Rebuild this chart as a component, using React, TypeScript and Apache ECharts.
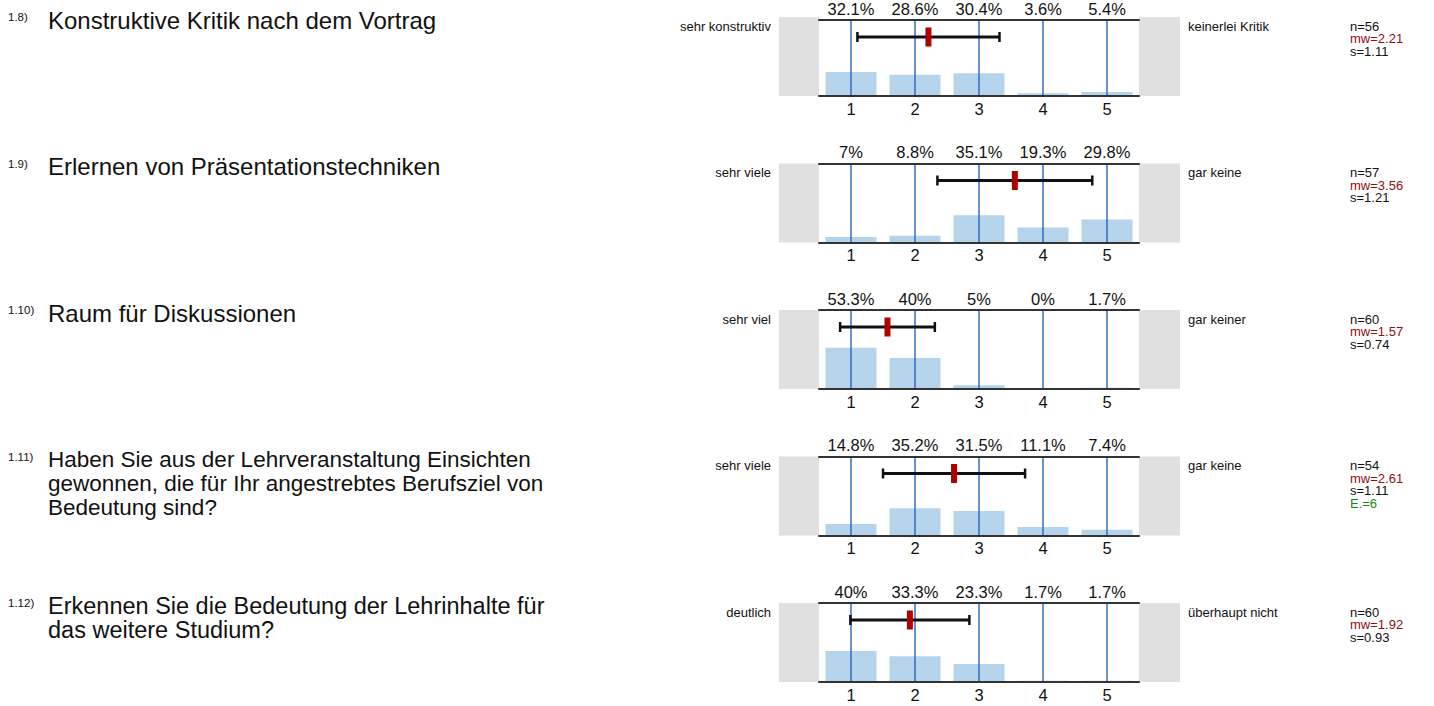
import React, { useEffect, useRef } from "react";
import * as echarts from "echarts";

const questionNumbers = ["1.8)", "1.9)", "1.10)", "1.11)", "1.12)"];
const questionTexts = [
  "Konstruktive Kritik nach dem Vortrag",
  "Erlernen von Präsentationstechniken",
  "Raum für Diskussionen",
  "Haben Sie aus der Lehrveranstaltung Einsichten\ngewonnen, die für Ihr angestrebtes Berufsziel von\nBedeutung sind?",
  "Erkennen Sie die Bedeutung der Lehrinhalte für\ndas weitere Studium?",
];
const leftLabels = ["sehr konstruktiv", "sehr viele", "sehr viel", "sehr viele", "deutlich"];
const rightLabels = ["keinerlei Kritik", "gar keine", "gar keiner", "gar keine", "überhaupt nicht"];
const categories = ["1", "2", "3", "4", "5"];
const scalePoints = [1, 2, 3, 4, 5];

const pct1 = [32.1, 28.6, 30.4, 3.6, 5.4];
const pct2 = [7, 8.8, 35.1, 19.3, 29.8];
const pct3 = [53.3, 40, 5, 0, 1.7];
const pct4 = [14.8, 35.2, 31.5, 11.1, 7.4];
const pct5 = [40, 33.3, 23.3, 1.7, 1.7];
const percentages = [pct1, pct2, pct3, pct4, pct5];

const nValues = [56, 57, 60, 54, 60];
const meanValues = [2.21, 3.56, 1.57, 2.61, 1.92];
const sdValues = [1.11, 1.21, 0.74, 1.11, 0.93];
const abstentions: (number | null)[] = [null, null, null, 6, null];

const FONT = "'Liberation Sans', Arial, Helvetica, sans-serif";
const GRID_LEFT = 819;
const GRID_WIDTH = 320;
const GRID_HEIGHT = 79;
const PANEL_STEP = 146.5;
const FIRST_TOP = 17;
const VLINE = "#2566b8";

export default function App() {
  const ref = useRef<HTMLDivElement>(null);

  useEffect(() => {
    if (!ref.current) return;
    const chart = echarts.init(ref.current, undefined, { renderer: "svg" });

    const grids: any[] = [];
    const xAxes: any[] = [];
    const yAxes: any[] = [];
    const series: any[] = [];
    const graphics: any[] = [];

    percentages.forEach((pcts, i) => {
      const top = FIRST_TOP + PANEL_STEP * i;
      grids.push({ left: GRID_LEFT, top, width: GRID_WIDTH, height: GRID_HEIGHT });
      xAxes.push({
        type: "category",
        gridIndex: i,
        data: categories,
        position: "bottom",
        axisLine: { show: true, lineStyle: { color: "#333", width: 2 } },
        axisTick: { show: false },
        axisLabel: { color: "#111", fontSize: 16.5, fontFamily: FONT, margin: 4 },
        splitLine: { show: false },
        z: 6,
      });
      xAxes.push({
        type: "category",
        gridIndex: i,
        data: categories,
        position: "top",
        axisLine: { show: true, lineStyle: { color: "#333", width: 2 } },
        axisTick: { show: false },
        axisLabel: {
          color: "#111",
          fontSize: 16.5,
          fontFamily: FONT,
          margin: 3,
          formatter: (_v: string, idx: number) => pcts[idx] + "%",
        },
        splitLine: { show: false },
        z: 6,
      });
      xAxes.push({
        type: "value",
        gridIndex: i,
        min: 0.5,
        max: 5.5,
        show: false,
      });
      yAxes.push({
        type: "value",
        gridIndex: i,
        min: 0,
        max: 102,
        show: false,
      });

      series.push({
        type: "bar",
        xAxisIndex: i * 3,
        yAxisIndex: i,
        data: pcts,
        barWidth: 51,
        itemStyle: { color: "#b5d4ec" },
      });

      series.push({
        type: "custom",
        xAxisIndex: i * 3 + 2,
        yAxisIndex: i,
        data: [[meanValues[i], sdValues[i]]],
        z: 5,
        renderItem: (params: any, api: any) => {
          const cs = params.coordSys;
          const m = api.value(0);
          const s = api.value(1);
          const xm = api.coord([m, 0])[0];
          const xl = api.coord([m - s, 0])[0];
          const xh = api.coord([m + s, 0])[0];
          const y = cs.y + 17;
          const vlines = scalePoints.map((p) => {
            const x = Math.round(api.coord([p, 0])[0]);
            return {
              type: "line",
              shape: { x1: x, y1: cs.y, x2: x, y2: cs.y + cs.height },
              style: { stroke: VLINE, lineWidth: 1.4 },
            };
          });
          return {
            type: "group",
            children: [
              ...vlines,
              { type: "line", shape: { x1: xl, y1: y, x2: xh, y2: y }, style: { stroke: "#111", lineWidth: 2.8 } },
              { type: "line", shape: { x1: xl, y1: y - 5, x2: xl, y2: y + 5 }, style: { stroke: "#111", lineWidth: 2.5 } },
              { type: "line", shape: { x1: xh, y1: y - 5, x2: xh, y2: y + 5 }, style: { stroke: "#111", lineWidth: 2.5 } },
              { type: "rect", shape: { x: xm - 3, y: y - 9.5, width: 6, height: 19 }, style: { fill: "#b00000" } },
            ],
          };
        },
      });

      graphics.push({
        type: "rect",
        shape: { x: 779, y: top, width: 40, height: GRID_HEIGHT },
        style: { fill: "#e0e0e0" },
        z: -10,
      });
      graphics.push({
        type: "rect",
        shape: { x: 1139, y: top, width: 41, height: GRID_HEIGHT },
        style: { fill: "#e0e0e0" },
        z: -10,
      });
      graphics.push({
        type: "text",
        x: 8,
        y: top,
        style: { text: questionNumbers[i], font: `11.5px ${FONT}`, fill: "#111", verticalAlign: "middle" },
      });
      const multi = questionTexts[i].indexOf("\n") >= 0;
      const qSize = i === 3 ? 22.5 : multi ? 23.5 : 24;
      graphics.push({
        type: "text",
        x: 48,
        y: top - 9,
        style: {
          text: questionTexts[i],
          font: `${qSize}px ${FONT}`,
          fill: "#111",
          verticalAlign: "top",
          lineHeight: multi ? 24 : 24.5,
        },
      });
      graphics.push({
        type: "text",
        x: 771,
        y: top + 9,
        style: { text: leftLabels[i], font: `13px ${FONT}`, fill: "#111", align: "right", verticalAlign: "middle" },
      });
      graphics.push({
        type: "text",
        x: 1188,
        y: top + 9,
        style: { text: rightLabels[i], font: `13px ${FONT}`, fill: "#111", align: "left", verticalAlign: "middle" },
      });
      const lines: { t: string; c: string }[] = [
        { t: "n=" + nValues[i], c: "#111" },
        { t: "mw=" + meanValues[i].toFixed(2), c: "#8b1010" },
        { t: "s=" + sdValues[i].toFixed(2), c: "#111" },
      ];
      if (abstentions[i] !== null) lines.push({ t: "E.=" + abstentions[i], c: "#138a13" });
      lines.forEach((ln, k) => {
        graphics.push({
          type: "text",
          x: 1350,
          y: top + 9 + k * 12.5,
          style: { text: ln.t, font: `13px ${FONT}`, fill: ln.c, verticalAlign: "middle" },
        });
      });
    });

    chart.setOption({
      animation: false,
      backgroundColor: "#ffffff",
      grid: grids,
      xAxis: xAxes,
      yAxis: yAxes,
      series,
      graphic: { elements: graphics },
    });

    return () => chart.dispose();
  }, []);

  return (
    <div
      ref={ref}
      style={{ position: "fixed", left: 0, top: 0, width: 1434, height: 706, background: "#fff" }}
    />
  );
}
